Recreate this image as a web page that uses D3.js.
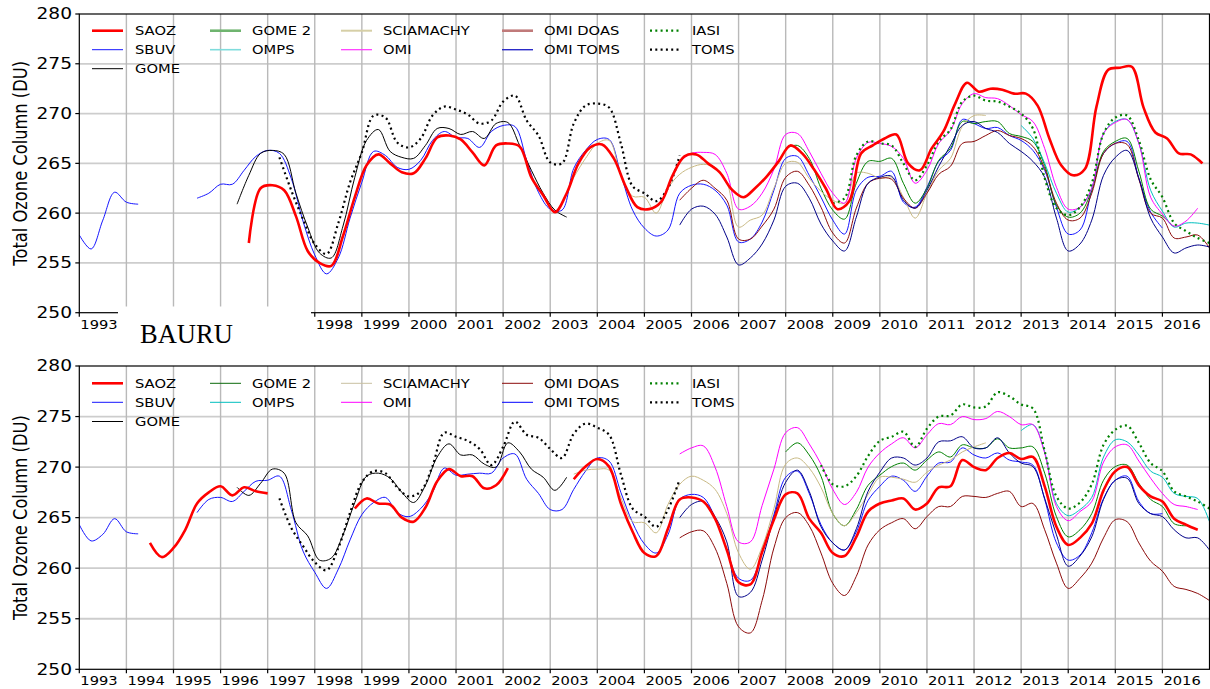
<!DOCTYPE html>
<html>
<head>
<meta charset="utf-8">
<script src="https://cdnjs.cloudflare.com/ajax/libs/d3/7.8.5/d3.min.js"></script>
<style>
  body { margin: 0; background: #fff; }
  svg { display: block; }
  text { font-family: "DejaVu Sans", sans-serif; fill: #000; }
</style>
</head>
<body>
<svg id="chart" width="1210" height="689"></svg>
<script>
// Quarterly samples (0.25 yr), total ozone in DU
const STEP = 0.25;
const years = d3.range(1993, 2017);
const ozoneTicks = [250, 255, 260, 265, 270, 275, 280];

// ---- Top panel ----
const topSAOZ = { start: 1996.6, v: [257.0, 262.5, 262.8, 262.3, 259.7, 256.2, 255.0, 254.7, 257.7, 261.6, 264.8, 265.9, 265.0, 264.1, 264.0, 265.5, 267.6, 267.8, 267.4, 266.1, 264.8, 266.8, 267.0, 266.7, 263.6, 261.8, 260.1, 262.0, 265.0, 266.6, 266.9, 265.5, 262.7, 260.6, 260.4, 261.1, 263.8, 265.7, 265.9, 265.0, 264.1, 262.4, 261.6, 262.5, 263.7, 265.2, 266.8, 266.0, 264.4, 262.5, 260.4, 261.2, 266.0, 266.8, 267.5, 267.9, 265.0, 264.3, 266.5, 268.2, 271.0, 273.1, 272.2, 272.5, 272.4, 272.0, 272.0, 270.8, 267.5, 264.8, 263.8, 264.4, 270.7, 274.4, 274.6, 274.7, 270.6, 268.1, 267.5, 266.0, 265.9, 265.0] };
const topSBUV_a = { start: 1993.0, v: [257.8, 256.4, 259.3, 262.1, 261.1, 260.9] };
const topSBUV_b = { start: 1995.5, v: [261.5, 262.0, 262.9, 262.9, 264.3, 265.7, 266.3, 266.0, 263.5, 259.2, 255.8, 253.9, 255.5, 259.5, 263.1, 266.2, 265.8, 264.6, 264.4, 265.3, 267.3, 268.2, 267.6, 267.5, 266.6, 268.2, 268.8, 268.7, 265.3, 262.1, 260.4, 260.3, 264.5, 266.3, 267.4, 267.4, 263.9, 260.3, 258.5, 257.7, 258.3, 262.0, 262.8, 262.9, 262.3, 260.8, 257.1, 257.4, 259.1, 262.3, 265.5, 265.7, 263.8, 261.6, 259.3, 257.9, 262.3, 263.6, 263.7, 264.2, 261.1, 260.6, 262.6, 265.2, 266.3, 269.4, 269.0, 268.5, 268.6, 267.8, 267.3, 266.3, 264.3, 260.6, 257.9, 258.3, 262.3, 266.0, 267.0, 267.2, 263.5, 260.1, 258.5] };
const topGOME = { start: 1996.35, v: [260.9, 263.8, 266.0, 266.3, 265.9, 262.0, 258.6, 256.0, 255.5, 258.7, 263.6, 267.3, 268.4, 266.2, 265.6, 265.5, 266.8, 268.5, 268.5, 267.9, 268.2, 267.5, 269.0, 269.1, 266.8, 264.3, 262.0, 260.3, 259.6] };
const topGOME2 = { start: 2008.0, v: [266.5, 266.8, 265.5, 262.5, 260.3, 259.4, 263.0, 265.2, 265.2, 265.5, 263.0, 261.0, 262.5, 265.3, 266.5, 269.2, 269.0, 269.2, 269.2, 268.0, 267.7, 267.2, 264.8, 260.8, 259.6, 260.0, 262.3, 266.2, 267.2, 267.5, 264.2, 260.4, 259.7, 258.6] };
const topOMPS = { start: 2013.0, v: [268.8, 267.5, 265.0, 262.0, 260.1, 260.6, 262.5, 268.0, 269.2, 269.4, 267.0, 262.3, 260.2, 258.6, 259.0, 259.0, 258.8] };
const topSCIA = { start: 2003.5, v: [263.6, 265.5, 267.0, 267.3, 263.8, 261.7, 261.6, 260.0, 262.5, 263.9, 264.6, 264.9, 264.6, 263.1, 258.6, 259.3, 259.8, 262.5, 265.0, 265.1, 263.5, 262.2, 261.3, 261.0, 264.0, 264.0, 263.5, 263.6, 261.6, 259.5, 262.0, 264.3, 265.5, 268.7, 269.8, 269.8] };
const topOMI = { start: 2005.75, v: [265.2, 266.0, 266.1, 265.9, 264.0, 260.4, 260.7, 262.0, 264.4, 267.9, 268.0, 266.2, 264.0, 262.0, 261.0, 265.5, 267.1, 267.0, 266.7, 265.5, 263.0, 264.3, 267.0, 268.3, 271.0, 272.0, 271.6, 271.5, 270.8, 269.9, 269.2, 266.5, 262.6, 260.4, 260.6, 262.5, 268.0, 269.1, 269.4, 267.0, 261.6, 259.9, 258.7, 259.2, 260.5] };
const topDOAS = { start: 2005.75, v: [261.3, 262.5, 263.3, 262.5, 261.3, 257.4, 257.4, 258.7, 260.4, 263.6, 264.2, 262.8, 260.6, 258.0, 257.0, 260.5, 263.0, 263.5, 263.4, 261.5, 260.5, 262.0, 263.9, 264.7, 267.0, 267.2, 267.8, 268.3, 267.8, 267.5, 266.7, 264.5, 261.0, 259.3, 259.5, 262.0, 266.0, 267.0, 266.9, 263.4, 260.0, 259.5, 257.5, 257.6, 257.8, 256.5] };
const topOMITOMS = { start: 2005.75, v: [258.8, 260.4, 260.7, 259.9, 257.6, 254.8, 255.5, 256.9, 259.3, 262.7, 263.0, 261.5, 258.9, 257.2, 256.2, 259.6, 263.0, 263.6, 263.7, 261.3, 260.5, 262.3, 264.7, 266.8, 268.8, 269.2, 268.5, 268.1, 267.0, 266.2, 265.2, 263.6, 259.5, 256.2, 256.9, 259.3, 263.8, 265.6, 266.3, 263.5, 259.5, 257.6, 256.0, 256.5, 256.8, 256.6] };
const topIASI = { start: 2009.0, v: [261.0, 261.5, 265.8, 267.2, 267.0, 266.8, 265.0, 263.3, 264.8, 267.2, 268.4, 271.2, 271.8, 271.3, 271.2, 270.7, 270.0, 268.5, 263.5, 260.5, 259.8, 260.6, 263.0, 268.0, 269.6, 269.8, 267.3, 263.4, 261.6, 259.0, 258.2, 257.5, 257.0] };
const topTOMS = { start: 1997.25, v: [265.6, 262.3, 259.4, 256.9, 255.9, 259.0, 263.1, 266.1, 269.8, 269.6, 267.1, 266.6, 267.5, 269.8, 270.7, 270.4, 269.9, 269.0, 269.3, 271.2, 271.8, 269.3, 267.8, 265.1, 265.0, 269.0, 270.8, 271.0, 270.6, 267.0, 262.7, 262.0, 261.2, 262.5, 265.8] };

// ---- Bottom panel ----
const botSAOZ_a = { start: 1994.5, v: [262.5, 261.1, 262.0, 263.8, 266.4, 267.5, 268.1, 267.2, 268.0, 267.6, 267.4] };
const botSAOZ_b = { start: 1998.85, v: [265.9, 266.9, 266.4, 266.3, 265.0, 264.6, 266.0, 268.6, 269.8, 269.1, 269.1, 267.9, 268.2, 269.9] };
const botSAOZ_c = { start: 2003.5, v: [268.8, 270.05, 270.8, 270.05, 266.4, 263.6, 261.5, 261.2, 263.9, 266.8, 267.0, 266.6, 264.9, 261.8, 258.6, 258.4, 261.6, 264.8, 267.3, 267.4, 264.9, 263.5, 261.5, 261.2, 263.1, 265.6, 266.4, 266.7, 266.9, 265.8, 266.4, 268.0, 268.1, 270.7, 270.0, 269.7, 270.9, 271.4, 270.8, 271.0, 268.1, 264.1, 262.3, 263.0, 264.4, 267.7, 269.6, 270.0, 268.2, 267.1, 266.6, 264.9, 264.3, 263.8] };
const botSBUV_a = { start: 1993.0, v: [264.3, 262.7, 263.35, 264.9, 263.6, 263.4] };
const botSBUV_b = { start: 1995.5, v: [265.5, 266.8, 267.0, 266.6, 267.6, 268.6, 268.7, 269.1, 265.8, 261.7, 259.6, 258.0, 259.9, 262.8, 265.3, 266.5, 267.0, 265.5, 265.1, 265.9, 267.5, 269.9, 269.2, 269.3, 269.4, 269.4, 270.9, 271.3, 268.8, 267.4, 265.8, 265.8, 267.8, 269.6, 270.9, 270.6, 267.5, 264.5, 262.4, 261.5, 263.3, 266.8, 267.3, 267.0, 265.0, 261.8, 259.0, 258.8, 261.5, 265.3, 269.0, 269.6, 267.4, 264.3, 262.5, 261.8, 263.6, 266.7, 268.1, 269.1, 268.7, 267.6, 269.1, 270.4, 270.5, 271.9, 271.2, 270.9, 271.4, 270.7, 270.5, 270.2, 266.8, 262.5, 260.8, 261.3, 263.5, 266.9, 268.7, 269.1, 266.6, 265.4, 265.4] };
const botGOME = { start: 1996.35, v: [268.0, 267.2, 268.4, 269.8, 269.4, 264.5, 263.2, 260.8, 261.0, 263.3, 266.5, 269.1, 269.4, 268.9, 267.5, 266.5, 268.2, 271.0, 272.3, 271.2, 271.2, 270.3, 270.0, 272.4, 271.5, 269.8, 269.0, 267.7, 269.0] };
const botGOME2 = { start: 2008.0, v: [271.5, 272.4, 271.2, 269.1, 265.4, 264.2, 265.8, 268.2, 269.2, 270.05, 270.4, 269.7, 270.7, 271.5, 271.0, 272.2, 271.9, 271.9, 272.8, 271.9, 271.9, 272.0, 269.4, 265.1, 263.1, 263.8, 265.4, 268.7, 270.05, 270.2, 268.4, 266.8, 266.1, 264.4, 264.2] };
const botOMPS = { start: 2013.0, v: [273.6, 274.2, 271.5, 266.4, 265.2, 265.8, 267.0, 271.0, 272.7, 272.5, 271.2, 269.6, 269.0, 267.4, 267.1, 266.9, 264.6] };
const botSCIA = { start: 2003.5, v: [269.3, 269.7, 269.8, 269.7, 267.0, 264.6, 264.5, 263.5, 266.3, 268.3, 269.1, 268.7, 267.8, 265.4, 261.5, 259.9, 262.1, 265.9, 270.3, 270.9, 269.9, 268.0, 265.4, 264.2, 265.5, 267.3, 269.0, 269.0, 268.8, 268.5, 269.5, 270.2, 270.7, 271.5, 272.0, 272.4] };
const botOMI = { start: 2005.75, v: [271.3, 271.9, 272.1, 270.0, 266.1, 262.6, 262.6, 266.2, 269.8, 273.4, 273.9, 272.3, 270.3, 267.8, 266.3, 267.5, 270.0, 271.4, 272.3, 272.9, 271.9, 273.2, 274.3, 274.2, 275.0, 274.7, 274.8, 275.5, 275.0, 274.2, 274.2, 271.4, 266.1, 264.7, 265.6, 266.6, 270.5, 272.0, 272.2, 270.6, 268.9, 267.4, 266.3, 266.1, 265.8] };
const botDOAS = { start: 2005.75, v: [263.0, 263.6, 263.7, 262.0, 258.5, 254.2, 253.6, 256.8, 262.0, 265.0, 265.5, 264.2, 261.5, 258.5, 257.3, 259.2, 262.3, 263.8, 264.5, 264.9, 263.9, 265.1, 266.1, 266.1, 267.1, 267.1, 267.0, 267.4, 267.6, 266.1, 266.4, 263.8, 260.5, 258.0, 259.0, 260.5, 263.0, 264.8, 264.6, 262.5, 260.7, 259.7, 258.2, 257.9, 257.5, 256.8] };
const botOMITOMS = { start: 2005.75, v: [265.0, 266.3, 266.6, 265.1, 262.6, 257.2, 257.6, 260.8, 265.0, 268.5, 269.7, 267.6, 264.1, 262.5, 261.8, 263.9, 267.6, 269.5, 270.9, 270.9, 270.2, 270.9, 272.5, 272.6, 273.0, 271.9, 271.9, 272.9, 271.4, 270.4, 270.05, 266.9, 263.3, 260.2, 261.2, 263.1, 266.8, 268.7, 268.9, 266.4, 265.4, 265.1, 263.8, 263.0, 263.0, 261.8] };
const botIASI = { start: 2008.75, v: [270.2, 268.3, 268.1, 269.1, 271.1, 272.6, 273.0, 273.5, 272.0, 273.8, 275.0, 275.1, 276.2, 275.9, 276.0, 277.4, 277.0, 276.2, 275.8, 271.6, 267.1, 265.9, 266.5, 268.3, 272.2, 273.7, 274.1, 272.4, 270.4, 269.6, 267.6, 267.1, 266.6, 265.9] };
const botTOMS = { start: 1997.25, v: [266.9, 264.0, 262.2, 260.6, 259.8, 262.0, 265.5, 268.5, 269.6, 269.4, 268.0, 267.1, 267.6, 270.1, 273.4, 273.0, 272.6, 271.8, 270.2, 272.0, 274.5, 273.2, 272.9, 271.8, 270.9, 273.3, 274.3, 273.9, 273.2, 269.3, 265.9, 265.1, 264.1, 265.8, 268.8] };

// ---- styles ----
const sty = {
  "SAOZ":      { c: "#ff0000", w: 2.6 },
  "SBUV":      { c: "#1515ff", w: 1 },
  "GOME":      { c: "#000000", w: 1 },
  "GOME 2":    { c: "#008000", w: 1 },
  "OMPS":      { c: "#00bfbf", w: 1 },
  "SCIAMACHY": { c: "#c8b984", w: 1 },
  "OMI":       { c: "#ff00ff", w: 1 },
  "OMI DOAS":  { c: "#8b0a0a", w: 1 },
  "OMI TOMS":  { c: "#000088", w: 1 },
  "IASI":      { c: "#008000", w: 2.2, dash: "2,3.3" },
  "TOMS":      { c: "#000000", w: 2.2, dash: "2,3.3" }
};

const topSeries = [
  ["SBUV", [topSBUV_a, topSBUV_b]], ["GOME", [topGOME]], ["GOME 2", [topGOME2]],
  ["OMPS", [topOMPS]], ["SCIAMACHY", [topSCIA]], ["OMI", [topOMI]], ["OMI DOAS", [topDOAS]],
  ["OMI TOMS", [topOMITOMS]], ["IASI", [topIASI]], ["TOMS", [topTOMS]], ["SAOZ", [topSAOZ]]
];
const botSeries = [
  ["SBUV", [botSBUV_a, botSBUV_b]], ["GOME", [botGOME]], ["GOME 2", [botGOME2]],
  ["OMPS", [botOMPS]], ["SCIAMACHY", [botSCIA]], ["OMI", [botOMI]], ["OMI DOAS", [botDOAS]],
  ["OMI TOMS", [botOMITOMS]], ["IASI", [botIASI]], ["TOMS", [botTOMS]], ["SAOZ", [botSAOZ_a, botSAOZ_b, botSAOZ_c]]
];

// legend colours differ a bit between panels (top one looks faded)
const topLegend = {
  "GOME 2": { c: "#6fb46f", w: 2.6 }, "OMPS": { c: "#7fdcdc", w: 1.6 },
  "SCIAMACHY": { c: "#d6cfa6", w: 2 }, "OMI": { c: "#ff33ff", w: 1.2 },
  "OMI DOAS": { c: "#c07a7a", w: 2.6 }, "OMI TOMS": { c: "#2b2bc8", w: 1.4 }
};
const botLegend = {
  "GOME 2": { c: "#0a6a0a", w: 1 }, "OMI TOMS": { c: "#0000ff", w: 1 },
  "SCIAMACHY": { c: "#c8c0a0", w: 1 }
};
const legendCols = [["SAOZ", "SBUV", "GOME"], ["GOME 2", "OMPS"], ["SCIAMACHY", "OMI"], ["OMI DOAS", "OMI TOMS"], ["IASI", "TOMS"]];
const legLineX = [92, 210, 341, 502, 650];
const legTextX = [135, 252, 383, 544, 692];

const svg = d3.select("#chart");
const X0 = 79.3, X1 = 1209.5;
const x = d3.scaleLinear().domain([1993, 2017]).range([X0, X1]);
const SX = 1.15; // the original figure was stretched sideways

function stext(g, px, py, str, size, anchor, sx) {
  return g.append("text")
    .attr("transform", `translate(${px},${py}) scale(${sx},1)`)
    .attr("dy", "0.35em")
    .attr("text-anchor", anchor)
    .style("font-size", size + "px")
    .text(str);
}

function panel(id, top, bottom, series, legendOverride, legRows, labelYears, labelY) {
  const y = d3.scaleLinear().domain([250, 280]).range([bottom, top]);
  const g = svg.append("g");

  g.append("clipPath").attr("id", "clip" + id)
    .append("rect").attr("x", X0).attr("y", top).attr("width", X1 - X0).attr("height", bottom - top);

  // grid
  g.selectAll(".hg").data(ozoneTicks.slice(1, -1)).enter().append("line")
    .attr("x1", X0).attr("x2", X1).attr("y1", d => y(d)).attr("y2", d => y(d))
    .style("stroke", "#cdcdcd").style("stroke-width", 1.8);
  g.selectAll(".vg").data(years.slice(1)).enter().append("line")
    .attr("x1", d => x(d)).attr("x2", d => x(d)).attr("y1", top).attr("y2", bottom)
    .style("stroke", "#b9b9b9").style("stroke-width", 1.4);

  // series
  const line = d3.line()
    .x(d => x(d[0])).y(d => y(d[1]))
    .curve(d3.curveCatmullRom.alpha(0.5));
  const lg = g.append("g").attr("clip-path", `url(#clip${id})`);
  series.forEach(([name, segs]) => {
    const s = sty[name];
    segs.forEach(seg => {
      const pts = seg.v.map((v, i) => [seg.start + i * STEP, v]);
      lg.append("path")
        .attr("d", line(pts))
        .style("fill", "none")
        .style("stroke", s.c)
        .style("stroke-width", s.w)
        .style("stroke-dasharray", s.dash || null)
        .style("stroke-linejoin", "round");
    });
  });

  // spines
  g.append("rect").attr("x", X0).attr("y", top).attr("width", X1 - X0).attr("height", bottom - top)
    .style("fill", "none").style("stroke", "#000").style("stroke-width", 1.2);

  // y ticks
  ozoneTicks.forEach(t => {
    g.append("line").attr("x1", X0 - 4).attr("x2", X0).attr("y1", y(t)).attr("y2", y(t))
      .style("stroke", "#000").style("stroke-width", 1.2);
    stext(g, 72, y(t), t, 15.5, "end", 1.2);
  });
  // x ticks
  years.forEach(yr => {
    g.append("line").attr("x1", x(yr)).attr("x2", x(yr)).attr("y1", bottom).attr("y2", bottom + 4)
      .style("stroke", "#000").style("stroke-width", 1.2);
  });
  labelYears.forEach(yr => stext(g, x(yr) + 1, labelY, yr, 13, "start", 1.13));

  // y title
  g.append("text")
    .attr("transform", `translate(20.5,${(top + bottom) / 2}) scale(1.18,1) rotate(-90)`)
    .attr("dy", "0.35em").attr("text-anchor", "middle")
    .style("font-size", "16.3px")
    .text("Total Ozone Column (DU)");

  // legend
  legendCols.forEach((col, ci) => {
    col.forEach((name, ri) => {
      const s = Object.assign({}, sty[name], legendOverride[name] || {});
      const ly = legRows[ri];
      g.append("line")
        .attr("x1", legLineX[ci]).attr("x2", legLineX[ci] + 31)
        .attr("y1", ly).attr("y2", ly)
        .style("stroke", s.c).style("stroke-width", s.w)
        .style("stroke-dasharray", s.dash || null);
      stext(g, legTextX[ci], ly, name, 12.8, "start", SX);
    });
  });
  return g;
}

panel("T", 14, 312.7, topSeries, topLegend, [30.7, 49.7, 68.7],
  [1993].concat(d3.range(1998, 2017)), 324.5);
panel("B", 366, 669.3, botSeries, botLegend, [383.3, 402.3, 421.5],
  years, 680.7);

// station label pasted over the broken top axis
svg.append("rect").attr("x", 118).attr("y", 306.5).attr("width", 193).attr("height", 44)
  .style("fill", "#fff");
svg.append("text")
  .attr("x", 140).attr("y", 342.5)
  .style("font-family", "'Liberation Serif', 'DejaVu Serif', serif")
  .style("font-size", "26.5px")
  .text("BAURU");
</script>
</body>
</html>
